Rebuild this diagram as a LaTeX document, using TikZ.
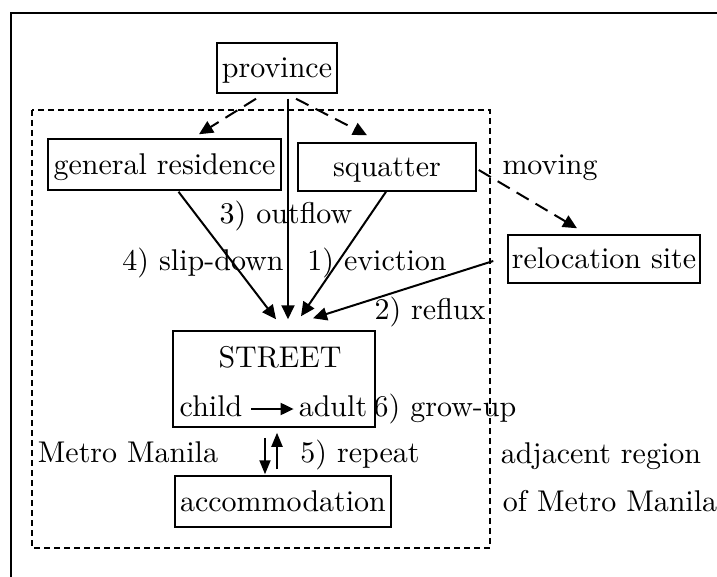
\documentclass[tikz,border=0pt]{standalone}
\usepackage{amsmath}
\usepackage{fontspec}
\setmainfont{lmroman10-regular.otf}
\usepackage{tikz}
\usetikzlibrary{arrows.meta}

\begin{document}
\begin{tikzpicture}[x=1pt,y=-1pt,font=\fontsize{30}{36}\selectfont]

	\tikzstyle place box=[draw, line width=1.5pt, inner sep=0pt, text height=20pt, text depth=0pt];
	\tikzstyle label text=[anchor=base, inner sep=0pt];
	\tikzstyle flow lines=[line width=2pt, -{Triangle[length=14pt,width=13pt]}];
	\tikzstyle moving lines=[flow lines, dash pattern=on 14pt off 8pt];
	\tikzstyle region lines=[line width=1.5pt, dash pattern=on 6pt off 4pt];

	\useasboundingbox (0,0) rectangle (717,577);
	\draw[line width=2pt] (11,577) -- (11,13) -- (717,13);
	\draw[region lines] (32,110) rectangle (490,548);

	\node[place box, minimum width=120pt, minimum height=50pt] (province) at (277,68) {province};
	\node[place box, minimum width=233pt, minimum height=51pt] (general) at (164.5,164.5) {general residence};
	\node[place box, minimum width=178pt, minimum height=48pt] (squatter) at (387,167) {squatter};
	\node[place box, minimum width=192pt, minimum height=48pt] (relocation) at (604,259) {relocation site};
	\node[place box, minimum width=202pt, minimum height=96pt] (street) at (274,379) {};
	\node[place box, minimum width=216pt, minimum height=51pt] (accommodation) at (283,501.5) {accommodation};

	\node[label text] (streetname) at (280,367) {STREET};
	\node[label text] (child) at (211,416) {child};
	\node[label text] (adult) at (333,416) {adult};

	\node[label text] (outflow) at (286,224) {3) outflow};
	\node[label text] (slipdown) at (203,271) {4) slip-down};
	\node[label text] (eviction) at (377,270) {1) eviction};
	\node[label text] (reflux) at (430,319) {2) reflux};
	\node[label text] (moving) at (550,175) {moving};
	\node[label text] (growup) at (445,416) {6) grow-up};
	\node[label text] (repeat) at (360,462) {5) repeat};
	\node[label text] (metro) at (128,462) {Metro Manila};
	\node[label text] (adjacent) at (601,463) {adjacent region};
	\node[label text] (ofmetro) at (610,511) {of Metro Manila};

	% moving out of the province
	\draw[moving lines] ([xshift=-21pt,yshift=-5pt]province.south) -- ([xshift=34.5pt,yshift=4pt]general.north);
	\draw[moving lines] ([xshift=19pt,yshift=-5pt]province.south) -- ([xshift=-20pt,yshift=7pt]squatter.north);
	\draw[moving lines] ([xshift=2pt,yshift=-3pt]squatter.east) -- ([xshift=-27pt,yshift=6pt]relocation.north);

	% flows onto the street
	\draw[flow lines] ([xshift=11pt,yshift=-5pt]province.south) -- ([xshift=14pt,yshift=11pt]street.north);
	\draw[flow lines] ([xshift=14pt,yshift=-1pt]general.south) -- ([xshift=2pt,yshift=11pt]street.north);
	\draw[flow lines] ([xshift=-1pt]squatter.south) -- ([xshift=27pt,yshift=14pt]street.north);
	\draw[flow lines] ([xshift=-14pt,yshift=-2pt]relocation.west) -- ([xshift=39pt,yshift=12pt]street.north);

	\draw[line width=2pt, -{Triangle[length=13pt,width=12pt]}] ([xshift=9pt,yshift=7pt]child.base east) -- ([xshift=-5pt,yshift=7pt]adult.base west);

	\draw[line width=2pt, -{Triangle[length=14pt,width=11pt]}] ([xshift=-9pt,yshift=-10pt]street.south) -- ([xshift=-18pt,yshift=1pt]accommodation.north);
	\draw[line width=2pt, -{Triangle[length=14pt,width=11pt]}] ([xshift=-6pt,yshift=6pt]accommodation.north) -- ([xshift=3pt,yshift=-5pt]street.south);

\end{tikzpicture}
\end{document}
